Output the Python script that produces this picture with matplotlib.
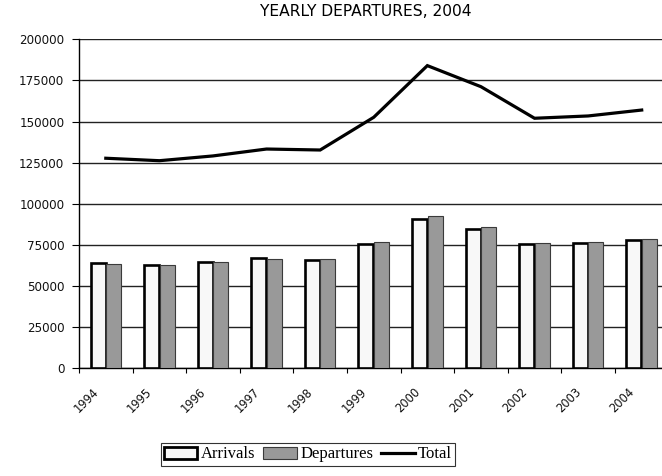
import matplotlib
matplotlib.use("Agg")
import matplotlib.pyplot as plt
import numpy as np
from matplotlib.patches import Patch
from matplotlib.lines import Line2D

years = ["1994", "1995", "1996", "1997", "1998", "1999",
         "2000", "2001", "2002", "2003", "2004"]
arrivals = [64000, 63000, 64600, 66800, 65700, 75600,
            90600, 84500, 75600, 76400, 77800]
departures = [63500, 62800, 64400, 66300, 66500, 77000,
              92600, 85700, 76200, 77000, 78800]
total = [127700, 126200, 129100, 133300, 132700, 152600,
         184000, 171200, 152000, 153400, 157000]
y_ticks = [0, 25000, 50000, 75000, 100000, 125000, 150000, 175000, 200000]

fig = plt.figure(figsize=(6.62, 4.76), dpi=100)
ax = fig.add_axes([79 / 662, 107.7 / 476, 589.5 / 662, 329 / 476])

x = np.arange(len(years))
w = 0.28
ax.bar(x - 0.145, arrivals, width=w, color="#f8f8f8", edgecolor="black",
       linewidth=1.9, zorder=3, label="Arrivals")
ax.bar(x + 0.145, departures, width=w, color="#999999", edgecolor="#3a3a3a",
       linewidth=0.8, zorder=3, label="Departures")
ax.plot(x, total, color="black", linewidth=2.3, zorder=4, label="Total",
        solid_joinstyle="miter")

ax.set_xlim(-0.5, len(years) - 0.5)
ax.set_ylim(0, 200000)
ax.set_yticks(y_ticks)
ax.set_yticklabels([str(v) for v in y_ticks], fontsize=8.6,
                   family="DejaVu Sans", color="#111111")
ax.yaxis.grid(True, color="#222222", linewidth=1.0, zorder=0)
ax.set_axisbelow(True)

ax.set_xticks(np.arange(-0.5, len(years), 1.0))
ax.set_xticklabels([])
ax.tick_params(axis="x", direction="out", length=3.5, width=0.8, color="black")
ax.tick_params(axis="y", direction="out", length=5, width=0.8, pad=5.5,
               color="black")

for s in ("top", "right"):
    ax.spines[s].set_visible(False)
ax.spines["left"].set_linewidth(1.0)
ax.spines["bottom"].set_linewidth(1.0)

trans = matplotlib.transforms.blended_transform_factory(ax.transData,
                                                        ax.transAxes)
for i, yr in enumerate(years):
    ax.text(i - 0.17, -0.065, yr, transform=trans, rotation=45,
            rotation_mode="anchor", ha="right", va="center",
            fontsize=8.3, family="DejaVu Sans", color="#111111")

fig.text(0.553, 0.975, "YEARLY DEPARTURES, 2004", ha="center", va="center",
         fontsize=11.2, family="DejaVu Sans")

handles = [
    Patch(facecolor="#f8f8f8", edgecolor="black", linewidth=2.0),
    Patch(facecolor="#999999", edgecolor="#3a3a3a", linewidth=0.8),
    Line2D([0], [0], color="black", linewidth=2.3),
]
leg = fig.legend(handles, ["Arrivals", "Departures", "Total"],
                 loc="center", bbox_to_anchor=(308 / 662, 1 - 454.5 / 476),
                 ncol=3, frameon=True, fancybox=False, edgecolor="black",
                 prop={"family": "Liberation Serif", "size": 12},
                 handlelength=2.0, handleheight=0.7, handletextpad=0.2,
                 columnspacing=0.5, borderpad=0.2, borderaxespad=0)
leg.get_frame().set_linewidth(0.8)

fig.savefig("out.png", dpi=100)
